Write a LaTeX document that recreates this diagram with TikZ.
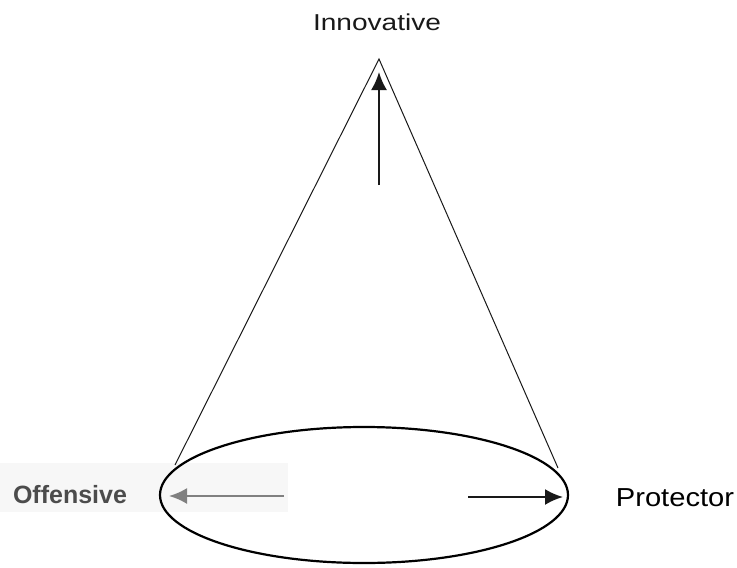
\documentclass[tikz,border=0pt]{standalone}
\usepackage{fontspec}
\setmainfont{Liberation Sans}
\usetikzlibrary{arrows.meta,shapes.geometric}
\begin{document}
\begin{tikzpicture}[x=1pt,y=-1pt,
  lbl/.style={inner sep=0pt, anchor=base, text=black!90},
  coneline/.style={line width=1pt, black!90},
  arr/.style={line width=2.2pt, -{Latex[length=18pt,width=16pt]}}]
\useasboundingbox (0,0) rectangle (737,568);
\fill[black!3] (0,463) rectangle (288,512);
\node[draw, ellipse, line width=2.2pt, minimum width=408pt, minimum height=136pt, inner sep=0pt, outer sep=0pt] (base) at (364,495) {};
\coordinate (apex) at (379,59);
\coordinate (bl) at (175,465);
\coordinate (br) at (558,468);
\draw[coneline] (bl) -- (apex) -- (br);
\coordinate (vs) at (379,185);
\coordinate (vt) at (379,72);
\draw[arr, black!90] (vs) -- (vt);
\coordinate (ls) at (284,496);
\coordinate (lt) at (169,496);
\draw[arr, black!50] (ls) -- (lt);
\coordinate (rs) at (468,497);
\coordinate (rt) at (563,497);
\draw[arr, black!90] (rs) -- (rt);
\node[lbl, font=\fontsize{23}{28}\selectfont] (inn) at (377,30) {\scalebox{1.22}[1]{Innovative}};
\node[lbl, font=\fontsize{25}{30}\selectfont\bfseries, text=black!70] (off) at (70,503) {Offensive};
\node[lbl, font=\fontsize{26}{31}\selectfont, text=black] (pro) at (675,506) {\scalebox{1.12}[1]{Protector}};
\end{tikzpicture}
\end{document}
